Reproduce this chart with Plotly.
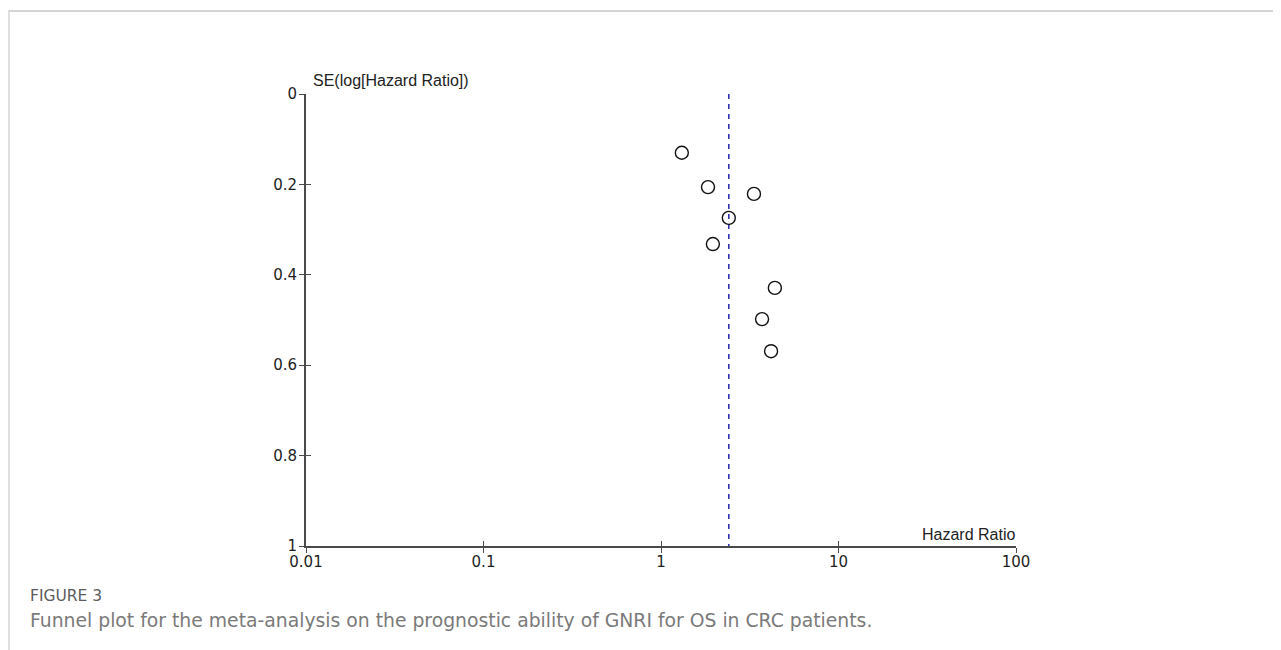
import plotly.graph_objects as go

# Data
hazard_ratio = [1.31, 1.84, 3.34, 2.41, 1.96, 4.38, 3.71, 4.17]
se_log_hr = [0.130, 0.206, 0.221, 0.274, 0.332, 0.429, 0.498, 0.569]
pooled_hr = 2.41

x_tick_vals = [0.01, 0.1, 1, 10, 100]
x_tick_text = ["0.01", "0.1", "1", "10", "100"]
y_tick_vals = [0, 0.2, 0.4, 0.6, 0.8, 1]
y_tick_text = ["0", "0.2", "0.4", "0.6", "0.8", "1"]

OFF = 8  # page body margin
W, H = 1281 - OFF, 650 - OFF
L, R, T, B = 306, 1016, 94, 546  # plot area in page pixels
PW, PH = R - L, B - T


def px(xp):
    return (xp - L) / PW


def py(yp):
    return (B - yp) / PH


axis_col = "#4a4a4a"
tick_font = dict(family="DejaVu Sans", size=15, color="#1e1e1e")

fig = go.Figure()
fig.add_trace(go.Scatter(
    x=hazard_ratio, y=se_log_hr, mode="markers",
    marker=dict(symbol="circle-open", size=13, color="#111111", line=dict(width=1.4)),
    hoverinfo="x+y", showlegend=False,
))
# invisible trace for the overlay axes
fig.add_trace(go.Scatter(x=[0.01], y=[1], xaxis="x2", yaxis="y2", mode="markers",
                         marker=dict(opacity=0), showlegend=False, hoverinfo="skip"))

fig.add_shape(type="line", x0=pooled_hr, x1=pooled_hr, y0=0, y1=1, xref="x", yref="y",
              line=dict(color="#2424b0", width=1.5, dash="5px,5px"), layer="below")

common_x = dict(type="log", range=[-2, 2], tickvals=x_tick_vals, showgrid=False,
                zeroline=False, ticklen=5, tickwidth=1.3, tickcolor=axis_col)
common_y = dict(range=[1, 0], tickvals=y_tick_vals, showgrid=False, zeroline=False,
                ticklen=5, tickwidth=1.3, tickcolor=axis_col)

fig.update_layout(
    width=W, height=H,
    margin=dict(l=L - OFF, r=W - (R - OFF), t=T - OFF, b=H - (B - OFF), pad=0),
    paper_bgcolor="white", plot_bgcolor="white",
    xaxis=dict(**common_x, ticktext=x_tick_text, ticks="outside", showline=True,
               linecolor=axis_col, linewidth=2, tickfont=tick_font, ticklabelstandoff=-4),
    yaxis=dict(**common_y, ticktext=y_tick_text, ticks="outside", showline=True,
               linecolor=axis_col, linewidth=2, tickfont=tick_font, ticklabelstandoff=-1),
    xaxis2=dict(**common_x, overlaying="x", ticks="inside", showticklabels=False,
                showline=False, anchor="y2", side="bottom"),
    yaxis2=dict(**common_y, overlaying="y", ticks="inside", showticklabels=False,
                showline=False, anchor="x2", side="left"),
    font=dict(family="DejaVu Sans"),
)

fig.add_annotation(text="SE(log[Hazard Ratio])", xref="paper", yref="paper",
                   x=px(311), y=py(80), xanchor="left", yanchor="middle",
                   showarrow=False, font=dict(family="Liberation Sans", size=16, color="#222222"))
fig.add_annotation(text="Hazard Ratio", xref="paper", yref="paper",
                   x=px(1017), y=py(534), xanchor="right", yanchor="middle",
                   showarrow=False, font=dict(family="Liberation Sans", size=16, color="#222222"))

fig.add_annotation(text="FIGURE 3", xref="paper", yref="paper",
                   x=px(28), y=py(596), xanchor="left", yanchor="middle",
                   showarrow=False, font=dict(family="DejaVu Sans", size=15.5, color="#5c5c5c"))
fig.add_annotation(text="Funnel plot for the meta-analysis on the prognostic ability of GNRI for OS in CRC patients.",
                   xref="paper", yref="paper", x=px(28), y=py(620), xanchor="left", yanchor="middle",
                   showarrow=False, font=dict(family="DejaVu Sans", size=18.8, color="#7a7a7a"))

# frame lines
fig.add_shape(type="line", xref="paper", yref="paper", x0=px(9), x1=px(1290), y0=py(11), y1=py(11),
              line=dict(color="#d4d4d4", width=2))
fig.add_shape(type="line", xref="paper", yref="paper", x0=px(9), x1=px(9), y0=py(10), y1=py(660),
              line=dict(color="#d4d4d4", width=1.5))

fig.write_html("out.html")
